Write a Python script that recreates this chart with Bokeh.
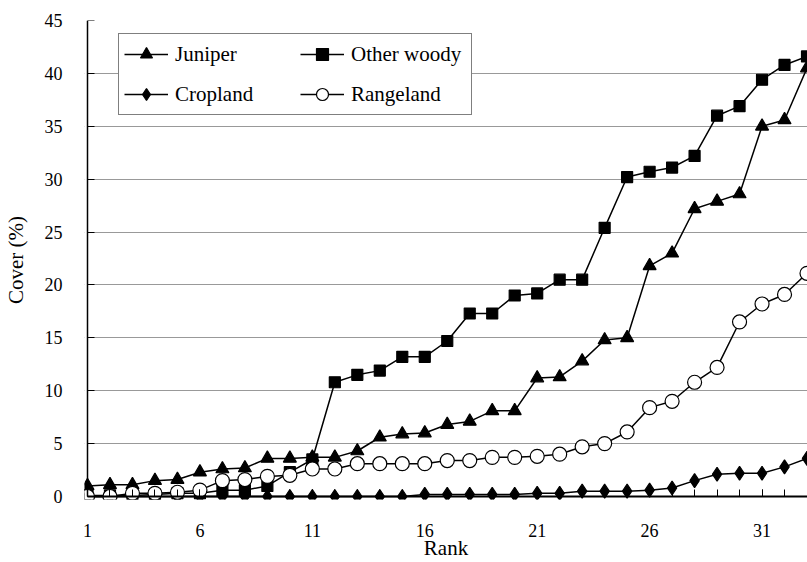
from bokeh.plotting import figure
from bokeh.models import (Range1d, FixedTicker, Legend, LegendItem,
                          BoxAnnotation, LinearAxis)
from bokeh.embed import file_html
from bokeh.resources import INLINE

# Cumulative cover by rank for each land-cover class
rank = list(range(1, 34))
juniper = [1.0, 1.1, 1.1, 1.5, 1.6, 2.3, 2.6, 2.7, 3.6, 3.6, 3.7, 3.7, 4.3,
           5.6, 5.9, 6.0, 6.8, 7.1, 8.1, 8.1, 11.2, 11.3, 12.8, 14.8, 15.0,
           21.8, 23.0, 27.2, 27.9, 28.6, 35.0, 35.6, 40.5]
other_woody = [0.1, 0.1, 0.1, 0.2, 0.3, 0.3, 0.6, 0.6, 1.0, 2.3, 3.5, 10.8,
               11.5, 11.9, 13.2, 13.2, 14.7, 17.3, 17.3, 19.0, 19.2, 20.5,
               20.5, 25.4, 30.2, 30.7, 31.1, 32.2, 36.0, 36.9, 39.4, 40.8, 41.6]
cropland = [0.0, 0.0, 0.0, 0.0, 0.0, 0.0, 0.0, 0.0, 0.0, 0.0, 0.0, 0.0, 0.0,
            0.0, 0.0, 0.2, 0.2, 0.2, 0.2, 0.2, 0.3, 0.3, 0.5, 0.5, 0.5, 0.6,
            0.8, 1.5, 2.1, 2.2, 2.2, 2.8, 3.6]
rangeland = [0.0, 0.0, 0.3, 0.3, 0.4, 0.6, 1.5, 1.6, 1.9, 2.0, 2.6, 2.6, 3.1,
             3.1, 3.1, 3.1, 3.4, 3.4, 3.7, 3.7, 3.8, 4.0, 4.7, 5.0, 6.1, 8.4,
             9.0, 10.8, 12.2, 16.5, 18.2, 19.1, 21.1]

x_ticks = [1, 6, 11, 16, 21, 26, 31]
y_ticks = [0, 5, 10, 15, 20, 25, 30, 35, 40, 45]

FONT = "Liberation Serif"
X_MIN, X_MAX = 1, 33.022
Y_MIN, Y_MAX = 0, 45

# The frame reaches a little past rank 1 and below 0 so that markers sitting
# on the axes are not cut in half. The side axes carry only the labels; the
# visible axis lines and inward ticks are pinned at rank 1 and cover 0.
p = figure(width=807, height=562, output_backend="svg", toolbar_location=None,
           x_range=Range1d(0.8666, X_MAX), y_range=Range1d(-0.284, Y_MAX),
           min_border_left=84, min_border_right=0, min_border_top=20,
           min_border_bottom=63)
p.outline_line_color = None
p.background_fill_color = "white"
p.border_fill_color = "white"

# label-only side axes
p.xaxis.ticker = FixedTicker(ticks=x_ticks)
p.yaxis.ticker = FixedTicker(ticks=y_ticks)
for ax in (p.xaxis, p.yaxis):
    ax.axis_line_color = None
    ax.major_tick_line_color = None
    ax.minor_tick_line_color = None
    ax.major_tick_out = 0
    ax.minor_tick_out = 0
    ax.major_label_text_font = FONT
    ax.major_label_text_font_size = "18px"
    ax.major_label_text_color = "black"
    ax.axis_label_text_font = FONT
    ax.axis_label_text_font_size = "21px"
    ax.axis_label_text_font_style = "normal"
    ax.axis_label_text_color = "black"
p.xaxis.axis_label = "Rank"
p.yaxis.axis_label = "Cover (%)"
p.xaxis.major_label_standoff = 24
p.yaxis.major_label_standoff = 22
p.xaxis.axis_label_standoff = -4
p.yaxis.axis_label_standoff = 14

# axis lines and ticks at rank 1 / cover 0
x_line = LinearAxis(fixed_location=0, bounds=(X_MIN, X_MAX),
                    ticker=FixedTicker(ticks=x_ticks, minor_ticks=rank),
                    axis_line_width=2)
y_line = LinearAxis(fixed_location=1, bounds=(Y_MIN, Y_MAX),
                    ticker=FixedTicker(ticks=y_ticks), axis_line_width=1.5)
for ax in (x_line, y_line):
    ax.axis_line_color = "black"
    ax.major_tick_line_color = "black"
    ax.minor_tick_line_color = "black"
    ax.major_tick_in = 7
    ax.major_tick_out = 0
    ax.minor_tick_in = 7
    ax.minor_tick_out = 0
    ax.major_label_standoff = 0
    ax.axis_label_standoff = 0
    ax.major_label_text_color = None
    ax.major_label_text_font_size = "0px"
y_line.minor_tick_line_color = None
p.add_layout(x_line, "below")
p.add_layout(y_line, "left")

p.xgrid.grid_line_color = None
p.ygrid.ticker = FixedTicker(ticks=y_ticks)
p.ygrid.grid_line_color = "#999999"
p.ygrid.grid_line_width = 1.2
# keep the horizontal grid lines from running left of the y axis
p.add_layout(BoxAnnotation(right=X_MIN, fill_color="white", fill_alpha=1,
                           line_color=None, level="underlay"))

def series(y, marker, size, fill):
    ln = p.line(rank, y, line_color="black", line_width=1.5)
    sc = p.scatter(rank, y, marker=marker, size=size, fill_color=fill,
                   line_color="black", line_width=1.2)
    return [ln, sc]

r_jun = series(juniper, "triangle", 13, "black")
r_oth = series(other_woody, "square", 11, "black")
r_crop = series(cropland, "diamond", 14, "black")
r_range = series(rangeland, "circle", 14, "white")

legend = Legend(
    items=[
        LegendItem(label="Juniper", renderers=r_jun),
        LegendItem(label="Cropland", renderers=r_crop),
        LegendItem(label="Other woody", renderers=r_oth),
        LegendItem(label="Rangeland", renderers=r_range),
    ],
    ncols=2, location=(34, 384),
    label_text_font=FONT, label_text_font_size="21px",
    label_text_color="black",
    glyph_width=44, glyph_height=30, label_height=30, label_width=115,
    label_standoff=7, spacing=10, padding=5, margin=0,
    border_line_color="black", border_line_width=1,
    background_fill_color="white", background_fill_alpha=1,
)
p.add_layout(legend, "center")

open("out.html", "w").write(file_html(p, INLINE))
